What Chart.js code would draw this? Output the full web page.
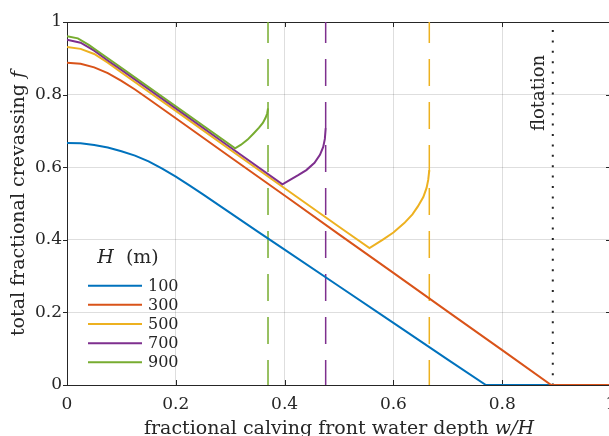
<!DOCTYPE html>
<html>
<head>
<meta charset="utf-8">
<script src="https://cdn.jsdelivr.net/npm/chart.js@4"></script>
<style>
html, body { margin: 0; padding: 0; overflow: hidden; background: #fff; }
#wrap { width: 612px; height: 436px; }
</style>
</head>
<body>
<div id="wrap"><canvas id="crevasse"></canvas></div>
<script>
// crevassing fraction vs water depth, one curve per ice thickness H
const thickness = ["100", "300", "500", "700", "900"];
const lineColors = ["#0072BD", "#D95319", "#EDB120", "#7E2F8E", "#77AC30"];

const depth100 = [0, 0.025, 0.05, 0.075, 0.1, 0.125, 0.15, 0.175, 0.2, 0.225, 0.25, 0.3, 0.35, 0.4, 0.5, 0.6, 0.7, 0.77, 1];
const frac100 = [0.667, 0.666, 0.661, 0.654, 0.644, 0.632, 0.616, 0.596, 0.574, 0.55, 0.525, 0.474, 0.423, 0.373, 0.272, 0.171, 0.07, 0, 0];

const depth300 = [0, 0.025, 0.05, 0.075, 0.1, 0.125, 0.15, 0.2, 0.3, 0.4, 0.5, 0.6, 0.7, 0.8, 0.89, 1];
const frac300 = [0.888, 0.885, 0.875, 0.859, 0.838, 0.814, 0.788, 0.735, 0.628, 0.522, 0.415, 0.309, 0.202, 0.096, 0, 0];

const depth500 = [0, 0.025, 0.05, 0.075, 0.1, 0.15, 0.2, 0.3, 0.4, 0.5, 0.556, 0.58, 0.6, 0.62, 0.635, 0.645, 0.655, 0.661, 0.664, 0.666];
const frac500 = [0.931, 0.926, 0.912, 0.888, 0.861, 0.808, 0.755, 0.648, 0.542, 0.436, 0.377, 0.4, 0.42, 0.446, 0.47, 0.492, 0.518, 0.543, 0.565, 0.592];

const depth700 = [0, 0.025, 0.05, 0.075, 0.1, 0.2, 0.3, 0.396, 0.41, 0.425, 0.44, 0.455, 0.465, 0.471, 0.474, 0.4755];
const frac700 = [0.951, 0.943, 0.921, 0.894, 0.868, 0.762, 0.655, 0.553, 0.565, 0.578, 0.592, 0.612, 0.634, 0.656, 0.678, 0.707];

const depth900 = [0, 0.02, 0.04, 0.06, 0.1, 0.2, 0.309, 0.32, 0.332, 0.343, 0.353, 0.36, 0.365, 0.368, 0.3695];
const frac900 = [0.961, 0.955, 0.937, 0.916, 0.874, 0.768, 0.652, 0.662, 0.676, 0.693, 0.709, 0.722, 0.736, 0.748, 0.762];

// limits where each curve ends (dashed) and flotation (dotted)
const limitDepth = [0.666, 0.4755, 0.3695];
const limitColors = ["#EDB120", "#7E2F8E", "#77AC30"];
const flotation = 0.893;

const xTicks = [0, 0.2, 0.4, 0.6, 0.8, 1];
const yTicks = [0, 0.2, 0.4, 0.6, 0.8, 1];

const depths = [depth100, depth300, depth500, depth700, depth900];
const fracs = [frac100, frac300, frac500, frac700, frac900];

const FONT = "'DejaVu Serif', serif";
const INK = "#262626";

function pts(xs, ys) {
  return xs.map((v, i) => ({ x: v, y: ys[i] }));
}

const datasets = [];
thickness.forEach((h, i) => {
  datasets.push({
    label: h,
    data: pts(depths[i], fracs[i]),
    borderColor: lineColors[i],
    borderWidth: 2,
    pointRadius: 0,
    tension: 0,
    order: 10 - i,
    isCurve: true,
  });
});
limitDepth.forEach((d, i) => {
  datasets.push({
    label: "limit",
    data: [{ x: d, y: 1 }, { x: d, y: 0 }],
    borderColor: limitColors[i],
    borderWidth: 1.5,
    borderDash: [27, 16],
    borderDashOffset: 6,
    pointRadius: 0,
    order: 20,
  });
});
datasets.push({
  label: "flotation",
  data: [{ x: flotation, y: 1 }, { x: flotation, y: 0 }],
  borderColor: "#222",
  borderWidth: 2,
  borderDash: [2, 8.4],
  borderDashOffset: -8,
  pointRadius: 0,
  order: 20,
});

function mixedText(ctx, parts, cx, cy, size) {
  let total = 0;
  parts.forEach(p => {
    ctx.font = (p[1] ? "italic " : "") + size + "px " + FONT;
    total += ctx.measureText(p[0]).width;
  });
  let x = cx - total / 2;
  ctx.textAlign = "left";
  ctx.textBaseline = "middle";
  parts.forEach(p => {
    ctx.font = (p[1] ? "italic " : "") + size + "px " + FONT;
    ctx.fillText(p[0], x, cy);
    x += ctx.measureText(p[0]).width;
  });
}

const decor = {
  id: "decor",
  beforeDatasetsDraw(chart) {
    const { ctx, chartArea: a, scales } = chart;
    ctx.save();
    ctx.strokeStyle = INK;
    ctx.lineWidth = 1;
    ctx.strokeRect(a.left + 0.5, a.top + 0.5, a.right - a.left - 1, a.bottom - a.top);
    ctx.beginPath();
    xTicks.forEach(v => {
      const px = Math.round(scales.x.getPixelForValue(v)) + 0.5;
      if (v > 0 && v < 1) {
        ctx.moveTo(px, a.bottom); ctx.lineTo(px, a.bottom - 5);
        ctx.moveTo(px, a.top); ctx.lineTo(px, a.top + 5);
      }
    });
    yTicks.forEach(v => {
      const py = Math.round(scales.y.getPixelForValue(v)) + 0.5;
      ctx.moveTo(a.left - 4, py); ctx.lineTo(a.left, py);
      ctx.moveTo(a.right, py); ctx.lineTo(a.right - 5, py);
    });
    ctx.stroke();
    ctx.restore();
  },
  afterDraw(chart) {
    const { ctx, chartArea: a, scales } = chart;
    ctx.save();
    ctx.fillStyle = INK;
    // axis titles
    mixedText(ctx, [["fractional calving front water depth ", false], ["w/H", true]], (a.left + a.right) / 2, 429, 19);
    ctx.save();
    ctx.translate(19, (a.top + a.bottom) / 2);
    ctx.rotate(-Math.PI / 2);
    mixedText(ctx, [["total fractional crevassing ", false], ["f", true]], 0, 0, 19);
    ctx.restore();
    // flotation label
    ctx.save();
    ctx.translate(scales.x.getPixelForValue(flotation) - 13, 93);
    ctx.rotate(-Math.PI / 2);
    mixedText(ctx, [["flotation", false]], 0, 0, 18);
    ctx.restore();
    // legend
    mixedText(ctx, [["H", true], ["  (m)", false]], 128, 258, 19);
    let row = 0;
    chart.data.datasets.forEach(ds => {
      if (!ds.isCurve) return;
      const yy = 285.7 + row * 19.15;
      ctx.strokeStyle = ds.borderColor;
      ctx.lineWidth = 2;
      ctx.beginPath();
      ctx.moveTo(88, yy); ctx.lineTo(142, yy);
      ctx.stroke();
      ctx.font = "16px " + FONT;
      ctx.textAlign = "left";
      ctx.textBaseline = "middle";
      ctx.fillText(ds.label, 148, yy + 1);
      row++;
    });
    ctx.restore();
  },
};

new Chart(document.getElementById("crevasse"), {
  type: "line",
  data: { datasets: datasets },
  plugins: [decor],
  options: {
    responsive: true,
    maintainAspectRatio: false,
    animation: false,
    layout: { padding: { top: 22, right: 1, left: 0, bottom: 0 } },
    plugins: {
      legend: { display: false },
      tooltip: { enabled: false },
    },
    elements: { line: { borderCapStyle: "butt" } },
    scales: {
      x: {
        type: "linear",
        min: 0,
        max: 1,
        afterBuildTicks: s => { s.ticks = xTicks.map(v => ({ value: v })); },
        afterFit: s => {
          s.height = 51;
          s.paddingLeft = 0;
          s.paddingRight = 0;
        },
        ticks: {
          color: INK,
          font: { family: FONT, size: 17 },
          padding: 9,
          maxRotation: 0,
          callback: v => String(v),
        },
        grid: { color: "rgba(0,0,0,0.13)", drawTicks: false },
        border: { display: false },
      },
      y: {
        min: 0,
        max: 1,
        afterBuildTicks: s => { s.ticks = yTicks.map(v => ({ value: v })); },
        afterFit: s => {
          s.width = 67;
          s.paddingTop = 0;
          s.paddingBottom = 0;
        },
        ticks: {
          color: INK,
          font: { family: FONT, size: 17 },
          padding: 5,
          callback: v => String(v),
        },
        grid: { color: "rgba(0,0,0,0.13)", drawTicks: false },
        border: { display: false },
      },
    },
  },
});
</script>
</body>
</html>
